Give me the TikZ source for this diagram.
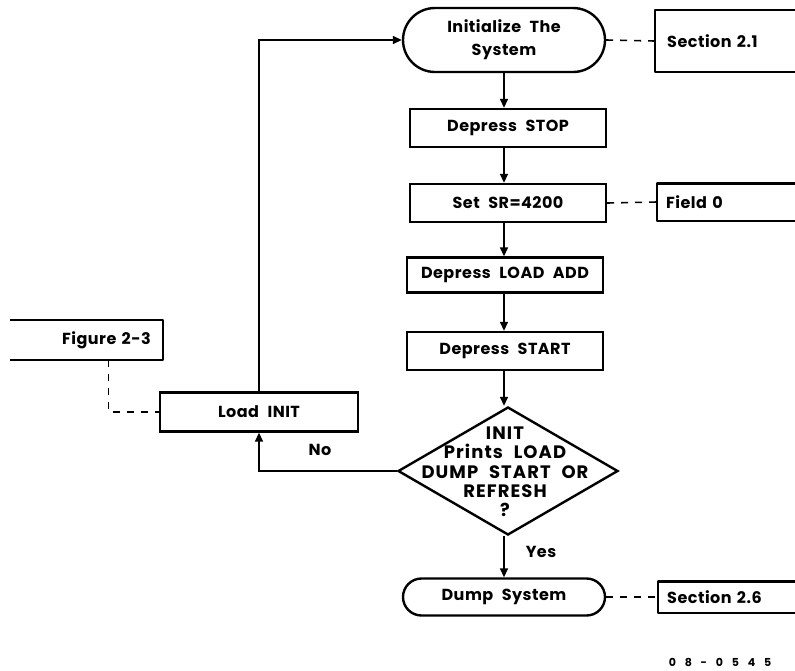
\documentclass[tikz,border=0pt]{standalone}
\usepackage{fontspec}
\setmainfont{Poppins}[LetterSpace=3, WordSpace=2.2]
\usetikzlibrary{arrows.meta,shapes.geometric,calc}

\begin{document}
\begin{tikzpicture}[x=1pt,y=-1pt,
  lbl/.style={font=\fontsize{16}{23}\selectfont\bfseries, inner sep=0pt},
  box/.style={lbl, draw, line width=2.4pt, minimum width=196pt, minimum height=38pt},
  term/.style={lbl, draw, line width=2.4pt, rounded corners=#1, minimum width=202pt, minimum height=2*#1, align=center},
  note/.style={lbl, minimum height=#1},
  edge/.style={line width=1.6pt},
  flow/.style={edge, -{Triangle[length=9pt,width=8pt]}},
  link/.style={line width=1.6pt, dash pattern=on 7pt off 7pt},
  rim/.style={line width=2.4pt, line join=round}
]
\useasboundingbox (0,0) rectangle (795,670);

% main column
\node[term=32pt] (init) at (504,40) {Initialize The\\System};
\node[box] (stop)  at (508,128) {Depress STOP};
\node[box] (sr)    at (508,203) {Set SR=4200};
\node[box, minimum height=35pt] (lad)   at (505,275) {Depress LOAD ADD};
\node[box] (start) at (505,351) {Depress START};
\node[draw, diamond, line width=2.4pt, minimum width=220pt, minimum height=128pt, inner sep=0pt] (dec) at (508,471) {};
\node[lbl, align=center, font=\fontsize{18}{19.3}\selectfont\bfseries\addfontfeatures{LetterSpace=6}] (dectext) at (505,472) {INIT\\Prints LOAD\\DUMP START OR\\REFRESH\\?};
\node[term=18.5pt] (dump) at (504,597) {Dump System};

% side loop
\node[box, minimum width=198pt, minimum height=39pt] (load) at (259,412) {Load INIT};

% annotation brackets
\node[note=62pt, anchor=west, minimum width=140pt, inner xsep=12pt, text width=116pt, align=left] (s21) at (655,41) {Section 2.1};
\node[note=37pt, anchor=west, minimum width=138pt, inner xsep=9pt, text width=120pt, align=left] (f0) at (657,202) {Field 0};
\node[note=31pt, anchor=west, minimum width=137pt, inner xsep=9pt, text width=119pt, align=left] (s26) at (658,597) {Section 2.6};
\node[note=40pt, anchor=east, minimum width=153pt, inner xsep=12pt, text width=129pt, align=right] (fig) at (163,340) {Figure 2-3};

\draw[rim] (s21.north east) -- (s21.north west) -- (s21.south west) -- (s21.south east);
\draw[rim] (f0.north east) -- (f0.north west) -- (f0.south west) -- (f0.south east);
\draw[rim] (s26.north east) -- (s26.north west) -- (s26.south west) -- (s26.south east);
\draw[rim] (fig.north west) -- (fig.north east) -- (fig.south east) -- (fig.south west);

% flow connectors
\draw[flow] (init.south) -- (init.south |- stop.north);
\draw[flow] (stop.south -| init.south) -- (init.south |- sr.north);
\draw[flow] (sr.south -| init.south) -- (init.south |- lad.north);
\draw[flow] (lad.south -| init.south) -- (init.south |- start.north);
\draw[flow] (start.south -| init.south) -- (init.south |- dec.north);
\draw[flow] (dec.south -| init.south) -- (init.south |- dump.north);
\draw[flow] (dec.west) -| (load.south);
\draw[flow] (load.north) |- (init.west);

% dashed references
\draw[link] (init.east) -- (s21.west);
\draw[link] (sr.east) -- (f0.west);
\draw[link] (dump.east) -- (s26.west);
\draw[link] ([xshift=22pt]fig.south) |- (load.west);

% branch labels
\node[lbl] (no)  at (320,450) {No};
\node[lbl] (yes) at (541,552) {Yes};

% drawing number
\node[lbl, font=\fontsize{11}{13}\selectfont\bfseries\addfontfeatures{LetterSpace=80}] (num) at (720,662) {08-0545};
\end{tikzpicture}
\end{document}
